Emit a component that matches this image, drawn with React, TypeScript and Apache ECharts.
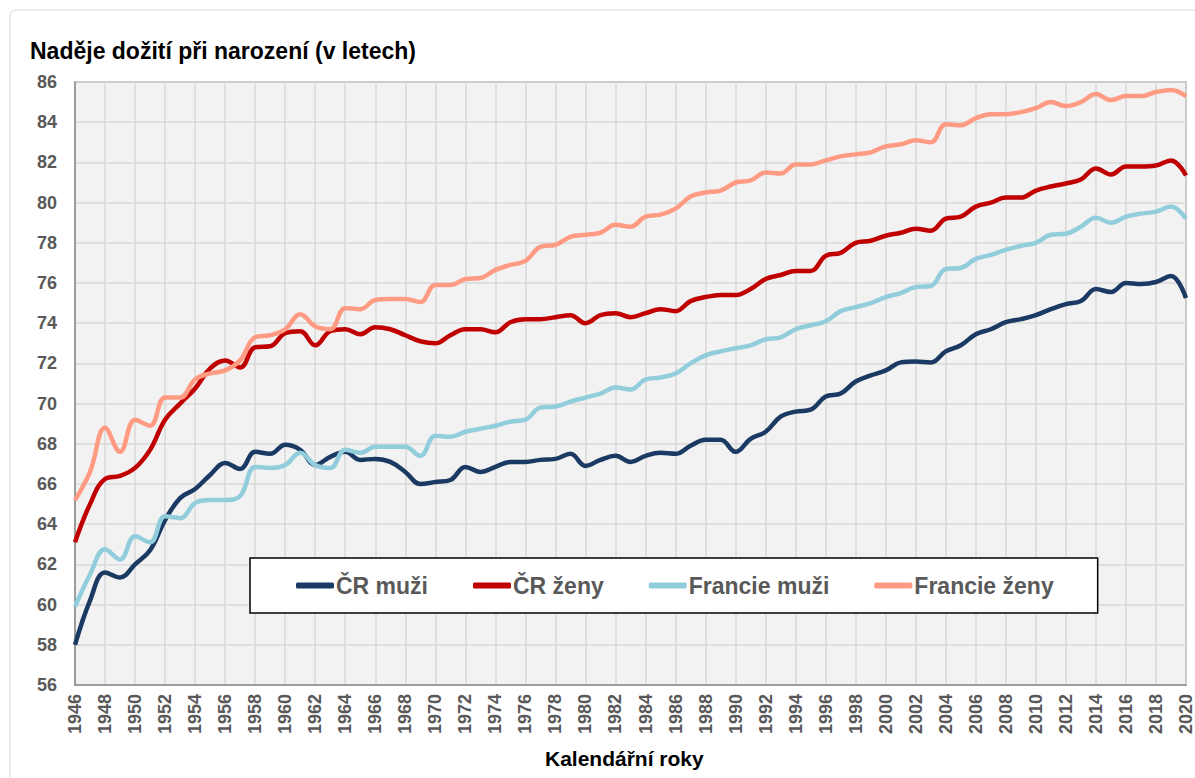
import React, { useEffect, useRef } from "react";
import * as echarts from "echarts";

const years: number[] = [];
for (let y = 1946; y <= 2020; y++) years.push(y);

const crMuzi = [
  58.0, 60.2, 61.6, 61.35, 62.0, 62.7, 64.2, 65.3, 65.75, 66.45,
  67.05, 66.75, 67.6, 67.5, 67.95, 67.7, 66.95, 67.35, 67.6, 67.2,
  67.25, 67.1, 66.6, 66.0, 66.1, 66.2, 66.85, 66.6, 66.85, 67.1,
  67.1, 67.2, 67.25, 67.5, 66.9, 67.2, 67.4, 67.1, 67.4, 67.55,
  67.5, 67.9, 68.2, 68.2, 67.6, 68.25, 68.6, 69.35, 69.6, 69.7,
  70.35, 70.5, 71.1, 71.4, 71.65, 72.05, 72.1, 72.05, 72.6, 72.9,
  73.45, 73.7, 74.05, 74.2, 74.4, 74.7, 74.95, 75.1, 75.7, 75.55,
  76.0, 75.95, 76.05, 76.35, 75.25,
];

const crZeny = [
  63.1, 65.0, 66.25, 66.4, 66.8, 67.7, 69.2, 70.0, 70.75, 71.75,
  72.15, 71.8, 72.8, 72.85, 73.5, 73.6, 72.9, 73.6, 73.7, 73.45,
  73.8, 73.7, 73.4, 73.1, 73.0, 73.4, 73.7, 73.7, 73.55, 74.05,
  74.2, 74.2, 74.3, 74.4, 74.0, 74.4, 74.5, 74.3, 74.5, 74.7,
  74.6, 75.1, 75.3, 75.4, 75.4, 75.7, 76.2, 76.4, 76.6, 76.6,
  77.35, 77.5, 78.0, 78.1, 78.35, 78.5, 78.7, 78.6, 79.2, 79.3,
  79.8, 80.0, 80.25, 80.25, 80.6, 80.8, 80.95, 81.15, 81.7, 81.4,
  81.8, 81.8, 81.85, 82.1, 81.35,
];

const frMuzi = [
  59.9, 61.5, 62.75, 62.25, 63.4, 63.1, 64.4, 64.3, 65.05, 65.2,
  65.2, 65.4, 66.85, 66.8, 66.95, 67.55, 66.95, 66.8, 67.7, 67.55,
  67.85, 67.85, 67.85, 67.4, 68.4, 68.35, 68.6, 68.75, 68.9, 69.1,
  69.2, 69.8, 69.85, 70.1, 70.3, 70.5, 70.8, 70.7, 71.2, 71.3,
  71.5, 72.0, 72.4, 72.6, 72.75, 72.9, 73.2, 73.3, 73.7, 73.9,
  74.1, 74.6, 74.8, 75.0, 75.3, 75.5, 75.8, 75.85, 76.7, 76.75,
  77.2, 77.4, 77.65, 77.85, 78.0, 78.4, 78.45, 78.8, 79.25, 79.0,
  79.3, 79.45, 79.55, 79.8, 79.2,
];

const frZeny = [
  65.2, 66.6, 68.8, 67.6, 69.2, 68.9, 70.3, 70.3, 71.2, 71.5,
  71.65, 72.15, 73.3, 73.4, 73.7, 74.45, 73.85, 73.7, 74.75, 74.7,
  75.15, 75.2, 75.2, 75.05, 75.9, 75.9, 76.2, 76.25, 76.65, 76.9,
  77.1, 77.8, 77.9, 78.3, 78.4, 78.5, 78.9, 78.8, 79.3, 79.4,
  79.7, 80.3, 80.5, 80.6, 81.0, 81.1, 81.5, 81.45, 81.9, 81.9,
  82.1, 82.3, 82.4, 82.5, 82.8, 82.9, 83.1, 83.0, 83.9, 83.85,
  84.2, 84.4, 84.4, 84.5, 84.7, 85.0, 84.8, 85.0, 85.4, 85.1,
  85.3, 85.3, 85.5, 85.6, 85.3,
];

const seriesNames = ["ČR muži", "ČR ženy", "Francie muži", "Francie ženy"];
const seriesColors = ["#1b3a63", "#c00000", "#92cddc", "#ff9b83"];
const seriesData = [crMuzi, crZeny, frMuzi, frZeny];

const titleText = "Naděje dožití při narození (v letech)";
const xAxisTitle = "Kalendářní roky";

const FONT = "'Liberation Sans', Arial, sans-serif";

export default function App() {
  const ref = useRef<HTMLDivElement>(null);

  useEffect(() => {
    if (!ref.current) return;
    const chart = echarts.init(ref.current, null, { renderer: "svg" });
    chart.setOption({
      animation: false,
      backgroundColor: "#ffffff",
      textStyle: { fontFamily: FONT },
      graphic: [
        {
          type: "rect",
          shape: { x: 10, y: 10, width: 1200, height: 800, r: 6 },
          style: { fill: "none", stroke: "#d9d9d9", lineWidth: 1 },
          silent: true,
          z: -10,
        },
        {
          type: "text",
          left: 30,
          top: 39,
          style: {
            text: titleText,
            fontFamily: FONT,
            fontSize: 23,
            fontWeight: "bold",
            fill: "#000000",
          },
        },
        {
          type: "text",
          left: 545,
          top: 748,
          style: {
            text: xAxisTitle,
            fontFamily: FONT,
            fontSize: 21,
            fontWeight: "bold",
            fill: "#000000",
          },
        },
      ],
      legend: {
        data: seriesNames,
        left: 250,
        top: 558,
        orient: "horizontal",
        backgroundColor: "#ffffff",
        borderColor: "#000000",
        borderWidth: 1.5,
        padding: [16, 44, 16, 46],
        itemGap: 45,
        itemWidth: 38,
        itemHeight: 6,
        icon: "roundRect",
        textStyle: {
          fontFamily: FONT,
          fontSize: 23,
          fontWeight: "bold",
          color: "#595959",
          padding: [0, 0, 0, -3],
        },
      },
      grid: {
        left: 75,
        right: 7,
        top: 82,
        bottom: 93,
        show: true,
        backgroundColor: "#f2f2f2",
        borderColor: "#8c8c8c",
        borderWidth: 1.5,
      },
      xAxis: {
        type: "value",
        min: 1946,
        max: 2020,
        interval: 2,
        axisLine: { show: true, lineStyle: { color: "#8c8c8c", width: 1.5 } },
        axisTick: { show: false },
        axisLabel: {
          rotate: 90,
          margin: 9,
          showMinLabel: true,
          showMaxLabel: true,
          formatter: (v: number) => String(v),
          fontFamily: FONT,
          fontSize: 18,
          fontWeight: "bold",
          color: "#595959",
        },
        splitLine: {
          show: true,
          lineStyle: { color: "#d9d9d9", width: 1.5 },
        },
      },
      yAxis: {
        type: "value",
        min: 56,
        max: 86,
        interval: 2,
        axisLine: { show: true, lineStyle: { color: "#8c8c8c", width: 1.5 } },
        axisTick: { show: false },
        axisLabel: {
          margin: 18,
          fontFamily: FONT,
          fontSize: 18,
          fontWeight: "bold",
          color: "#595959",
        },
        splitLine: {
          show: true,
          lineStyle: { color: "#d9d9d9", width: 1.5 },
        },
      },
      series: seriesNames.map((name, i) => ({
        name,
        type: "line",
        data: years.map((y, j) => [y, seriesData[i][j]]),
        smooth: 0.4,
        symbol: "none",
        lineStyle: { color: seriesColors[i], width: 4.5 },
        itemStyle: { color: seriesColors[i] },
      })),
    });
    return () => chart.dispose();
  }, []);

  return (
    <div
      ref={ref}
      style={{ position: "fixed", left: 0, top: 0, width: 1195, height: 778 }}
    />
  );
}
